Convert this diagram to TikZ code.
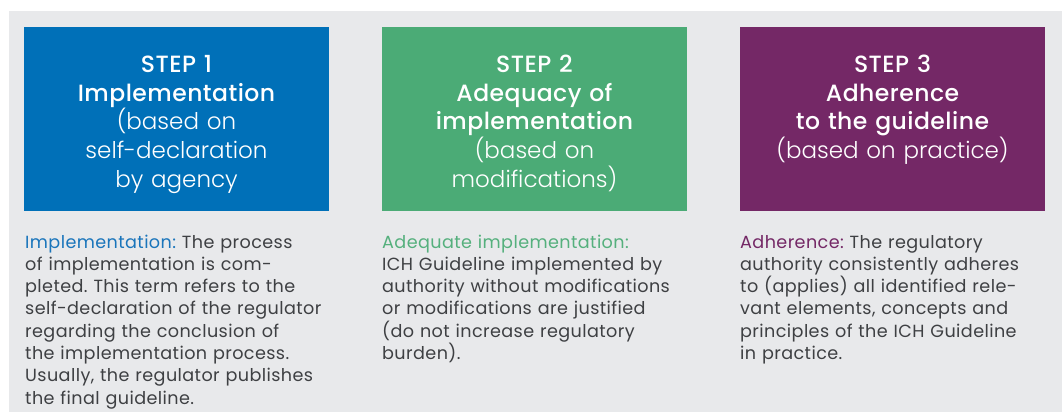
\documentclass[tikz,border=0pt]{standalone}
\usepackage{fontspec}
\setmainfont{Poppins}
\newfontfamily\lightfont{Poppins Light}
\newfontfamily\titlefont[LetterSpace=2]{Poppins Medium}
\newfontfamily\bodyfont[LetterSpace=2.3]{Poppins}
\frenchspacing
\definecolor{bggray}{HTML}{E8E9EB}
\definecolor{boxblue}{HTML}{0070B8}
\definecolor{boxgreen}{HTML}{4BAB76}
\definecolor{boxpurple}{HTML}{742866}
\definecolor{labblue}{HTML}{1A75BB}
\definecolor{labgreen}{HTML}{55B07D}
\definecolor{labpurple}{HTML}{742866}
\definecolor{bodygray}{HTML}{3E4043}
\newcommand{\lt}[1]{{\fontsize{23}{28.5}\lightfont #1}}
\tikzset{
  stepbox/.style={draw=none, minimum width=305pt, minimum height=184pt, inner sep=0pt, anchor=north west},
  steptitle/.style={text=white, align=center, text width=305pt, inner sep=0pt, anchor=base, font=\titlefont\fontsize{23.5}{28.5}\selectfont\frenchspacing},
  bodytext/.style={text=bodygray, align=left, text width=345pt, inner sep=0pt, anchor=base west, font=\bodyfont\fontsize{17.6}{22.3}\selectfont\frenchspacing}
}
\begin{document}
\begin{tikzpicture}[x=1pt,y=-1pt]
\useasboundingbox (0,0) rectangle (1062,412);
\fill[white] (0,0) rectangle (1062,412);
\fill[bggray] (9,11) rectangle (1062,412);
% boxes
\node[stepbox, fill=boxblue] (b1) at (24,27) {};
\node[stepbox, fill=boxgreen] (b2) at (382,27) {};
\node[stepbox, fill=boxpurple] (b3) at (740,27) {};
% titles
\node[steptitle] (t1) at (176.5,73) {STEP 1\\Implementation\\\lt{(based on}\\\lt{self-declaration}\\\lt{by agency}};
\node[steptitle] (t2) at (534.5,73) {STEP 2\\Adequacy of\\implementation\\\lt{(based on}\\\lt{modifications)}};
\node[steptitle] (t3) at (892.5,73) {STEP 3\\Adherence\\to the guideline\\\lt{(based on practice)}};
% descriptions
\node[bodytext] (d1) at (25,248) {\textcolor{labblue}{Implementation:} The process\\of implementation is com-\\pleted. This term refers to the\\self-declaration of the regulator\\regarding the conclusion of\\the implementation process.\\Usually, the regulator publishes\\the final guideline.};
\node[bodytext] (d2) at (382,248) {\textcolor{labgreen}{Adequate implementation:}\\ICH Guideline implemented by\\authority without modifications\\or modifications are justified\\(do not increase regulatory\\burden).};
\node[bodytext] (d3) at (740,248) {\textcolor{labpurple}{Adherence:} The regulatory\\authority consistently adheres\\to (applies) all identified rele-\\vant elements, concepts and\\principles of the ICH Guideline\\in practice.};
\end{tikzpicture}
\end{document}
